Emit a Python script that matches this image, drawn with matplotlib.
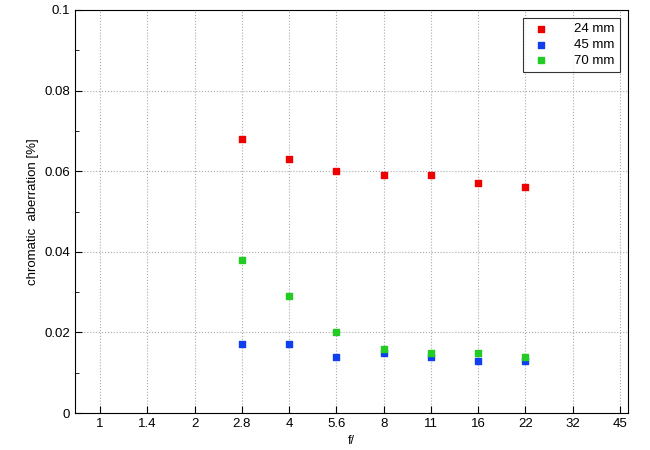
import matplotlib
matplotlib.use("Agg")
import matplotlib.pyplot as plt
from matplotlib.ticker import MultipleLocator

plt.rcParams['font.family'] = ['Liberation Sans', 'DejaVu Sans']

tick_labels = ["1", "1.4", "2", "2.8", "4", "5.6", "8", "11", "16", "22", "32", "45"]
f_stops = ["2.8", "4", "5.6", "8", "11", "16", "22"]
ca_24 = [0.068, 0.063, 0.060, 0.059, 0.059, 0.057, 0.056]
ca_45 = [0.017, 0.017, 0.014, 0.015, 0.014, 0.013, 0.013]
ca_70 = [0.038, 0.029, 0.020, 0.016, 0.015, 0.015, 0.014]

fig = plt.figure(figsize=(6.5, 4.5), dpi=100)
ax = fig.add_axes([75/650, 37/450, 553/650, 403/450])
xs = [tick_labels.index(f) for f in f_stops]
ax.scatter(xs, ca_24, marker="s", s=22, color="#ee0000", label="24 mm", zorder=3)
ax.scatter(xs, ca_45, marker="s", s=22, color="#1040ee", label="45 mm", zorder=3)
ax.scatter(xs, ca_70, marker="s", s=22, color="#22cc22", label="70 mm", zorder=3)
ax.set_xticks(range(len(tick_labels)))
ax.set_xticklabels(tick_labels)
ax.set_xlim(-0.53, len(tick_labels) - 0.83)
ax.set_ylim(0, 0.1)
ax.set_yticks([0, 0.02, 0.04, 0.06, 0.08, 0.1])
ax.set_yticklabels(["0", "0.02", "0.04", "0.06", "0.08", "0.1"])
ax.yaxis.set_minor_locator(MultipleLocator(0.01))
ax.tick_params(which="both", direction="in", labelsize=9.5)
ax.tick_params(which="major", length=5)
ax.tick_params(which="minor", length=3)
ax.grid(True, linestyle=":", color="#aaaaaa", linewidth=0.8)
ax.set_xlabel("f/", fontsize=9)
ax.set_ylabel("chromatic  aberration [%]", fontsize=9.5)
leg = ax.legend(loc="upper right", frameon=True, fancybox=False, edgecolor="black",
                fontsize=9.5, markerscale=0.8, handletextpad=1.5, borderaxespad=0.6,
                labelspacing=0.25)
leg.get_frame().set_linewidth(0.8)
fig.savefig("out.png", dpi=100)
